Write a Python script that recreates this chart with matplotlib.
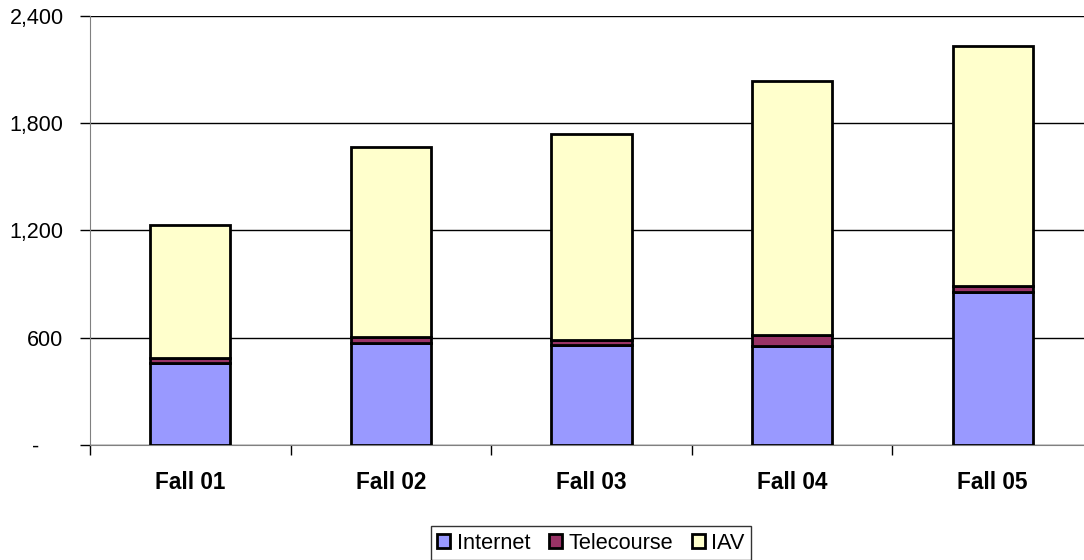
import matplotlib
matplotlib.use("Agg")
import matplotlib.pyplot as plt
import numpy as np

categories = ["Fall 01", "Fall 02", "Fall 03", "Fall 04", "Fall 05"]
internet = [457, 569, 559, 554, 854]
telecourse = [28, 34, 28, 61, 35]
iav = [747, 1064, 1151, 1421, 1345]
series_names = ["Internet", "Telecourse", "IAV"]
colors = ["#9999FF", "#993366", "#FFFFCC"]
yticks = [0, 600, 1200, 1800, 2400]
ytick_labels = ["-    ", "600", "1,200", "1,800", "2,400"]

plt.rcParams['font.family'] = ['Liberation Sans', 'DejaVu Sans']

fig = plt.figure(figsize=(10.84, 5.6), dpi=100)
ax = fig.add_axes([90/1084, 1-445/560, 1003/1084, 429/560])

x = np.arange(len(categories))
bottom = np.zeros(len(categories))
handles = []
for name, vals, col in zip(series_names, [internet, telecourse, iav], colors):
    b = ax.bar(x, vals, width=0.40, bottom=bottom, color=col, edgecolor="black",
               linewidth=2.0, label=name, zorder=3)
    bottom += np.array(vals)
    handles.append(b)

ax.set_xlim(-0.5, len(categories) - 0.5)
ax.set_ylim(0, 2400)
ax.set_yticks(yticks)
ax.set_yticklabels(ytick_labels, fontsize=15.5)
ax.yaxis.grid(True, color="black", linewidth=1.0, zorder=0)
ax.set_axisbelow(True)

ax.set_xticks(x)
ax.set_xticklabels(categories, fontsize=16.3, fontweight="bold")
ax.tick_params(axis="x", length=0, pad=19)
ax.set_xticks(np.arange(-0.5, len(categories)), minor=True)
ax.tick_params(axis="x", which="minor", length=7, width=1, color="black", direction="out")
ax.tick_params(axis="y", length=7, width=1, color="black", direction="out", pad=12)

for s in ["top", "right"]:
    ax.spines[s].set_visible(False)
ax.spines["left"].set_color("#808080")
ax.spines["bottom"].set_color("#808080")

leg = fig.legend(handles=handles, labels=series_names, loc="upper center",
                 bbox_to_anchor=(591/1084, 1-526/560), ncol=3, fontsize=15.7,
                 frameon=True, fancybox=False, edgecolor="black",
                 handlelength=0.6, handleheight=0.6, handletextpad=0.3,
                 columnspacing=0.85, borderpad=0.3, borderaxespad=0)
leg.get_frame().set_linewidth(1.0)

fig.savefig("out.png", dpi=100)
